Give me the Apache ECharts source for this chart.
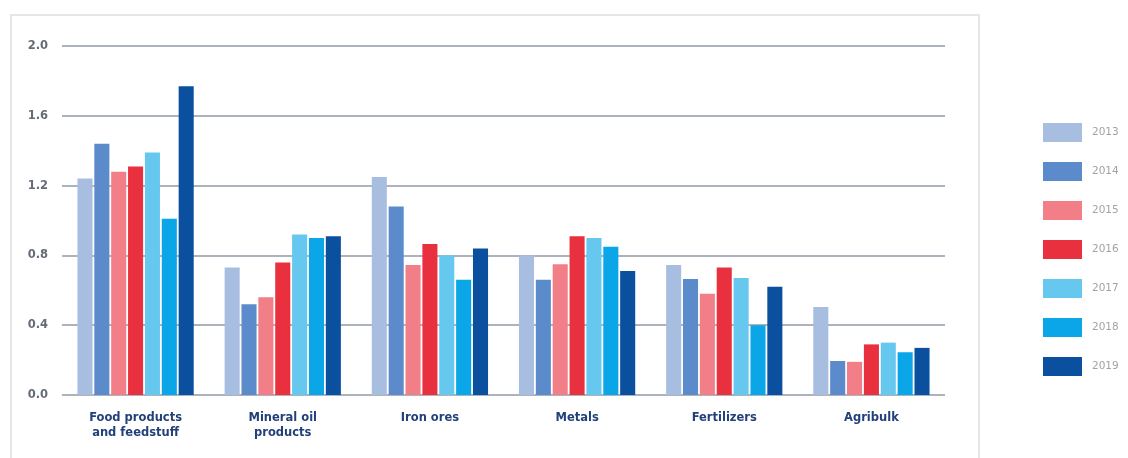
<!DOCTYPE html>
<html>
<head>
<meta charset="utf-8">
<script src="https://cdn.jsdelivr.net/npm/echarts@6/dist/echarts.min.js"></script>
<style>
  html, body { margin: 0; padding: 0; background: #ffffff; }
  #chart { width: 1128px; height: 458px; }
</style>
</head>
<body>
<div id="chart"></div>
<script>
// Cargo categories (x axis)
const categories = [
  'Food products\nand feedstuff',
  'Mineral oil\nproducts',
  'Iron ores',
  'Metals',
  'Fertilizers',
  'Agribulk'
];

// Years shown in the legend
const years = ['2013', '2014', '2015', '2016', '2017', '2018', '2019'];

// Values per year, one entry per category
const v2013 = [1.24, 0.73, 1.25, 0.80, 0.745, 0.505];
const v2014 = [1.44, 0.52, 1.08, 0.66, 0.665, 0.195];
const v2015 = [1.28, 0.56, 0.745, 0.75, 0.58, 0.19];
const v2016 = [1.31, 0.76, 0.865, 0.91, 0.73, 0.29];
const v2017 = [1.39, 0.92, 0.80, 0.90, 0.67, 0.30];
const v2018 = [1.01, 0.90, 0.66, 0.85, 0.40, 0.245];
const v2019 = [1.77, 0.91, 0.84, 0.71, 0.62, 0.27];

const seriesValues = [v2013, v2014, v2015, v2016, v2017, v2018, v2019];

// Y axis range and step
const yMin = 0;
const yMax = 2.0;
const yStep = 0.4;

const colors = ['#a8bee1', '#5b8bcb', '#f27e88', '#e9303e', '#66c8ef', '#0aa6e8', '#0b4f9f'];

const chart = echarts.init(document.getElementById('chart'), null, { renderer: 'canvas' });

const series = years.map((y, i) => ({
  name: y,
  type: 'bar',
  data: seriesValues[i],
  barGap: '12%',
  barCategoryGap: '21%',
  itemStyle: { color: colors[i] },
  emphasis: { disabled: true }
}));

chart.setOption({
  animation: false,
  color: colors,
  graphic: [{
    type: 'rect',
    silent: true,
    z: -10,
    shape: { x: 11, y: 15, width: 968, height: 470 },
    style: { fill: '#ffffff', stroke: '#e6e6e6', lineWidth: 2 }
  }],
  legend: {
    orient: 'vertical',
    left: 1038,
    top: 118,
    itemWidth: 39,
    itemHeight: 19,
    itemGap: 20,
    icon: 'rect',
    selectedMode: false,
    data: years,
    textStyle: {
      color: '#a3a3a3',
      fontSize: 10.5,
      fontFamily: 'DejaVu Sans',
      padding: [0, 0, 0, 5]
    }
  },
  grid: {
    left: 62,
    right: 183,
    top: 46,
    bottom: 63,
    containLabel: false
  },
  xAxis: {
    type: 'category',
    data: categories,
    axisLine: { show: false },
    axisTick: { show: false },
    axisLabel: {
      margin: 16,
      color: '#22407a',
      fontWeight: 'bold',
      fontSize: 11.5,
      fontFamily: 'DejaVu Sans',
      lineHeight: 15,
      interval: 0
    }
  },
  yAxis: {
    type: 'value',
    min: yMin,
    max: yMax,
    interval: yStep,
    axisLine: { show: false },
    axisTick: { show: false },
    axisLabel: {
      margin: 14,
      color: '#646c78',
      fontWeight: 'bold',
      fontSize: 11.5,
      fontFamily: 'DejaVu Sans',
      formatter: v => v.toFixed(1)
    },
    splitLine: { lineStyle: { color: '#adb3bc', width: 2 } }
  },
  series: series
});
</script>
</body>
</html>
